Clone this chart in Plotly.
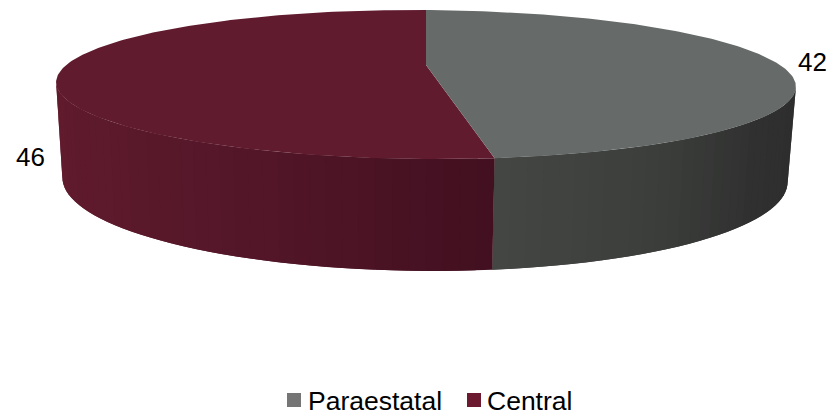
import numpy as np
import plotly.graph_objects as go

categories = ["Paraestatal", "Central"]
values = [42, 46]
top_colors = ["#666b69", "#611b2e"]
legend_colors = ["#757575", "#6b1a30"]
# side shading: (screen-order stops along each slice, start angle to end angle)
side_stops = [
    [(105, (45, 45, 45)), (130, (47, 48, 47)), (150, (60, 62, 60)), (172, (68, 70, 67))],
    [(172, (66, 16, 32)), (200, (82, 22, 40)), (230, (93, 26, 44)), (255, (97, 27, 46))],
]

W, H = 831, 412
K = 0.262          # perspective strength
TILT = 0.006
TOP = dict(cx=426.0, cy=65.0, a=357.0, b=69.4)
BOT = dict(cx=425.0, cy=156.0, a=350.0, b=84.8)
FONT = "Liberation Sans"


def project(theta_deg, e):
    t = np.radians(theta_deg)
    X, Y = np.sin(t), -np.cos(t)
    d = 1 - K * Y
    x = e["cx"] + e["a"] * X / d
    y = e["cy"] + e["b"] * Y / d + TILT * e["a"] * X / d
    return x, y


total = sum(values)
edges = np.concatenate([[0], np.cumsum(values) / total * 360])

fig = go.Figure()

# visible side wall, split into thin shaded strips per slice
vis_start, vis_end = 105.0, 255.0
for i in range(len(values)):
    lo, hi = max(edges[i], vis_start), min(edges[i + 1], vis_end)
    n = max(int((hi - lo) / 2.0), 1)
    steps = np.linspace(lo, hi, n + 1)
    stops = side_stops[i]
    sa = [s[0] for s in stops]
    for j in range(n):
        mid = (steps[j] + steps[j + 1]) / 2
        rgb = [int(round(np.interp(mid, sa, [s[1][c] for s in stops]))) for c in range(3)]
        end = steps[min(j + 2, n)]
        arc = np.linspace(steps[j], end, 4)
        tx, ty = project(arc, TOP)
        bx, by = project(arc[::-1], BOT)
        col = f"rgb({rgb[0]},{rgb[1]},{rgb[2]})"
        fig.add_trace(go.Scatter(
            x=np.concatenate([tx, bx]), y=np.concatenate([ty, by]),
            mode="lines", fill="toself", fillcolor=col,
            line=dict(width=0, color=col), hoverinfo="skip", showlegend=False))

# top face wedges
for i in [1, 0]:
    arc = np.linspace(edges[i], edges[i + 1], 180)
    ax, ay = project(arc, TOP)
    fig.add_trace(go.Scatter(
        x=np.concatenate([[TOP["cx"]], ax, [TOP["cx"]]]),
        y=np.concatenate([[TOP["cy"]], ay, [TOP["cy"]]]),
        mode="lines", fill="toself", fillcolor=top_colors[i],
        line=dict(width=0, color=top_colors[i]), hoverinfo="skip", showlegend=False))

# legend, placed by hand because a real legend this low pushes the plot margins
key_x = [294, 474]
text_x = [306, 485]
key_y, text_y = 400, 400.5
for name, col, kx, tx_ in zip(categories, legend_colors, key_x, text_x):
    fig.add_trace(go.Scatter(
        x=[kx], y=[key_y], mode="markers", name=name, showlegend=False, hoverinfo="name",
        marker=dict(symbol="square", size=14, color=col, line=dict(width=0))))
    fig.add_annotation(x=tx_, y=text_y, text=name, showarrow=False, xanchor="left",
                       font=dict(family=FONT, size=26.5, color="#000000"))

label_pos = [(812, 62), (30, 157)]
for v, (lx, ly) in zip(values, label_pos):
    fig.add_annotation(x=lx, y=ly, text=str(v), showarrow=False,
                       font=dict(family=FONT, size=26, color="#000000"))

fig.update_layout(
    width=W, height=H,
    margin=dict(l=0, r=0, t=0, b=0),
    paper_bgcolor="white", plot_bgcolor="white",
    xaxis=dict(range=[0, W], visible=False, fixedrange=True),
    yaxis=dict(range=[H, 0], visible=False, fixedrange=True),
    showlegend=False,
)
fig.write_html("out.html", config=dict(displayModeBar=False),
               post_script="document.body.style.margin='0';document.body.style.overflow='hidden';")
